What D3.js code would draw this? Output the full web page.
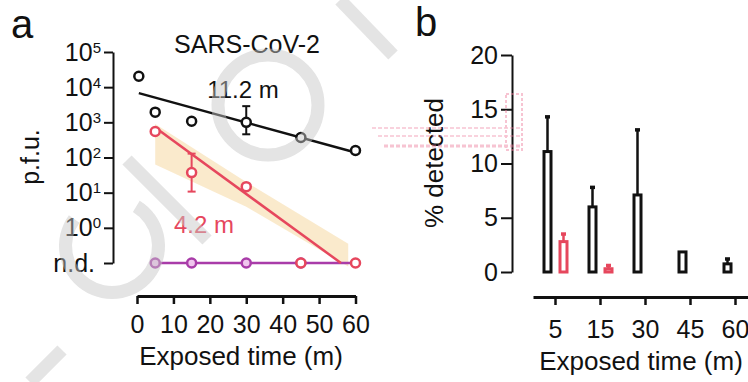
<!DOCTYPE html>
<html>
<head>
<meta charset="utf-8">
<script src="https://cdn.jsdelivr.net/npm/d3@7"></script>
<style>
  body { margin: 0; background: #fff; }
  svg { display: block; font-family: "Liberation Sans", Arial, sans-serif; }
</style>
</head>
<body>
<svg id="chart" width="748" height="382"></svg>
<script>
// ---- panel a : p.f.u. over exposed time (log10 values, -1 = n.d.)
const blackTimes = [0.5, 5, 15, 30, 45, 60];
const blackLog = [4.31, 3.29, 3.03, 3.0, 2.57, 2.2];
const blackErrLo = [null, null, null, 2.66, null, 2.12];
const blackErrHi = [null, null, null, 3.46, null, 2.28];

const redTimes = [5, 15, 30, 45, 60];
const redLog = [2.74, 1.57, 1.17, -1, -1];
const redErrLo = [null, 1.03, null, null, null];
const redErrHi = [null, 2.11, null, null, null];

const purpleTimes = [5, 15, 30, 45, 60];
const purpleLog = [-1, -1, -1, -1, -1];

const blackFitT = [0.5, 60];
const blackFitLog = [3.83, 2.14];
const redFitT = [5, 56];
const redFitLog = [2.85, -1];

const bandT = [5, 30, 58];
const bandHi = [2.95, 1.3, -0.45];
const bandLo = [1.8, 0.6, -1.1];

const logTicks = [-1, 0, 1, 2, 3, 4, 5];
const timeTicks = [0, 10, 20, 30, 40, 50, 60];

// ---- panel b : % detected
const groups = ["5", "15", "30", "45", "60"];
const blackPct = [11.1, 6.0, 7.1, 1.85, 0.75];
const blackPctErr = [14.3, 7.8, 13.1, null, 1.2];
const redPct = [2.8, 0.3, 0, null, null];
const redPctErr = [3.5, 0.6, null, null, null];
const pctTicks = [0, 5, 10, 15, 20];

const RED = "#e6475d", PURPLE = "#a93ca9", INK = "#111";

const svg = d3.select("#chart");

function styleAxis(g, size) {
  g.attr("font-size", size).attr("font-family", "Liberation Sans, Arial, sans-serif");
  g.selectAll("text").attr("fill", INK);
  g.selectAll("line,path").attr("stroke", INK);
}

// ================= panel a =================
const xA = d3.scaleLinear().domain([0, 60]).range([137, 355.5]);
const yA = d3.scaleLinear().domain([-1, 5]).range([263, 52]);

// confidence band of red fit
const band = d3.area()
  .x((d, i) => xA(bandT[i]))
  .y0((d, i) => yA(bandLo[i]))
  .y1((d, i) => yA(bandHi[i]));
svg.append("path").datum(bandT).attr("d", band)
  .attr("fill", "#f3d08e").attr("opacity", 0.45);

const line = d3.line().x(d => xA(d[0])).y(d => yA(d[1]));

// purple (n.d.) line
svg.append("path").datum(d3.zip(purpleTimes, purpleLog)).attr("d", line)
  .attr("fill", "none").attr("stroke", PURPLE).attr("stroke-width", 2.5);

// fits
svg.append("path").datum(d3.zip(blackFitT, blackFitLog)).attr("d", line)
  .attr("fill", "none").attr("stroke", INK).attr("stroke-width", 2.5);
svg.append("path").datum(d3.zip(redFitT, redFitLog)).attr("d", line)
  .attr("fill", "none").attr("stroke", RED).attr("stroke-width", 2.5);

function errBars(times, lo, hi, color) {
  const g = svg.append("g").attr("stroke", color).attr("stroke-width", 2);
  times.forEach((t, i) => {
    if (lo[i] == null) return;
    const x = xA(t);
    g.append("line").attr("x1", x).attr("x2", x).attr("y1", yA(lo[i])).attr("y2", yA(hi[i]));
    g.append("line").attr("x1", x - 4).attr("x2", x + 4).attr("y1", yA(lo[i])).attr("y2", yA(lo[i]));
    g.append("line").attr("x1", x - 4).attr("x2", x + 4).attr("y1", yA(hi[i])).attr("y2", yA(hi[i]));
  });
}
errBars(blackTimes, blackErrLo, blackErrHi, INK);
errBars(redTimes, redErrLo, redErrHi, RED);

function points(times, vals, color, fill) {
  svg.append("g").selectAll("circle").data(d3.zip(times, vals)).join("circle")
    .attr("cx", d => xA(d[0])).attr("cy", d => yA(d[1])).attr("r", 4.5)
    .attr("fill", fill).attr("stroke", color).attr("stroke-width", 2.5);
}
points(purpleTimes.slice(0, 4), purpleLog.slice(0, 4), PURPLE, "#f0c6ee");
points(blackTimes, blackLog, INK, "#fff");
points(redTimes, redLog, RED, "#fff");

// axes a
const yAxA = svg.append("g").attr("transform", "translate(113,0)")
  .call(d3.axisLeft(yA).tickValues(logTicks).tickSize(9).tickSizeOuter(0).tickPadding(3));
styleAxis(yAxA, 25);
yAxA.select(".domain").attr("stroke-width", 2);
yAxA.selectAll(".tick line").attr("stroke-width", 2);
yAxA.selectAll(".tick text").text(null).each(function (d) {
  const t = d3.select(this);
  if (d === -1) { t.attr("dx", -6).text("n.d."); return; }
  t.append("tspan").text("10");
  t.append("tspan").attr("font-size", 15).attr("dy", -8).text(d);
});

const xAxA = svg.append("g").attr("transform", "translate(0,296)")
  .call(d3.axisBottom(xA).tickValues(timeTicks).tickSize(8).tickSizeOuter(0).tickPadding(11));
styleAxis(xAxA, 25);
xAxA.select(".domain").attr("stroke-width", 3);
xAxA.selectAll(".tick line").attr("stroke-width", 2.5);

// labels a
svg.append("text").attr("x", 11).attr("y", 38).attr("font-size", 40).attr("fill", INK).text("a");
svg.append("text").attr("x", 247).attr("y", 53).attr("font-size", 25).attr("text-anchor", "middle")
  .attr("fill", INK).text("SARS-CoV-2");
svg.append("text").attr("x", 243).attr("y", 98).attr("font-size", 24).attr("text-anchor", "middle")
  .attr("fill", INK).text("11.2 m");
svg.append("text").attr("x", 204).attr("y", 233).attr("font-size", 24).attr("text-anchor", "middle")
  .attr("fill", RED).text("4.2 m");
svg.append("text").attr("transform", "translate(39,157) rotate(-90)").attr("font-size", 25)
  .attr("text-anchor", "middle").attr("fill", INK).text("p.f.u.");
svg.append("text").attr("x", 241).attr("y", 365).attr("font-size", 26).attr("text-anchor", "middle")
  .attr("fill", INK).text("Exposed time (m)");

// ================= panel b =================
const xB = d3.scaleBand().domain(groups).range([533, 758]);
const yB = d3.scaleLinear().domain([0, 20]).range([272, 55]);
const cx = g => xB(g) + xB.bandwidth() / 2;

function bars(vals, errs, color, off) {
  const g = svg.append("g");
  groups.forEach((k, i) => {
    if (vals[i] == null) return;
    const x = cx(k) + off;
    if (errs[i] != null) {
      g.append("line").attr("x1", x).attr("x2", x).attr("y1", yB(vals[i])).attr("y2", yB(errs[i]))
        .attr("stroke", color).attr("stroke-width", 2.5);
      g.append("line").attr("x1", x - 2.5).attr("x2", x + 2.5).attr("y1", yB(errs[i])).attr("y2", yB(errs[i]))
        .attr("stroke", color).attr("stroke-width", 3.5);
    }
    g.append("rect").attr("x", x - 3.5).attr("width", 7)
      .attr("y", yB(vals[i])).attr("height", yB(0) - yB(vals[i]))
      .attr("fill", "#fff").attr("stroke", color).attr("stroke-width", 3);
  });
}
bars(blackPct, blackPctErr, INK, -8);
bars(redPct, redPctErr, RED, 8);

const yAxB = svg.append("g").attr("transform", "translate(512,0)")
  .call(d3.axisLeft(yB).tickValues(pctTicks).tickSize(11).tickSizeOuter(0).tickPadding(3));
styleAxis(yAxB, 25);
yAxB.select(".domain").attr("stroke-width", 2);
yAxB.selectAll(".tick line").attr("stroke-width", 2);

const xAxB = svg.append("g").attr("transform", "translate(0,297)")
  .call(d3.axisBottom(xB).tickSize(8).tickSizeOuter(0).tickPadding(15));
styleAxis(xAxB, 25);
xAxB.select(".domain").attr("stroke-width", 3);
xAxB.selectAll(".tick line").attr("stroke-width", 2.5);

svg.append("text").attr("x", 415).attr("y", 36).attr("font-size", 40).attr("fill", INK).text("b");
svg.append("text").attr("transform", "translate(443,163) rotate(-90)").attr("font-size", 26)
  .attr("text-anchor", "middle").attr("fill", INK).text("% detected");
svg.append("text").attr("x", 641).attr("y", 370).attr("font-size", 26).attr("text-anchor", "middle")
  .attr("fill", INK).text("Exposed time (m)");

// ---- faint scan artefacts: pink stamp and grey watermark
const stamp = svg.append("g").attr("stroke", "#ee7e9c").attr("fill", "none").attr("opacity", 0.45);
[128, 136, 146].forEach((y, i) => {
  stamp.append("line").attr("x1", 372 + i * 6).attr("x2", 522).attr("y1", y).attr("y2", y)
    .attr("stroke-width", i === 2 ? 3 : 1.5).attr("stroke-dasharray", "4,2");
});
stamp.append("rect").attr("x", 506).attr("y", 94).attr("width", 16).attr("height", 56)
  .attr("stroke-width", 2).attr("stroke-dasharray", "3,2");

const wm = svg.append("g").attr("fill", "none").attr("stroke", "#c6c6c6")
  .attr("stroke-width", 13).attr("opacity", 0.48).attr("stroke-linecap", "butt");
wm.append("circle").attr("cx", 268).attr("cy", 105).attr("r", 50);
wm.append("path").attr("d", d3.arc()({ innerRadius: 40, outerRadius: 53, startAngle: 0.55, endAngle: 2 * Math.PI - 0.95 }))
  .attr("transform", "translate(112,246)").attr("fill", "#c6c6c6").attr("stroke", "none");
wm.append("line").attr("x1", 127).attr("y1", 160).attr("x2", 207).attr("y2", 240);
wm.append("line").attr("x1", 340).attr("y1", 0).attr("x2", 393).attr("y2", 55);
wm.append("line").attr("x1", 30).attr("y1", 382).attr("x2", 62).attr("y2", 350);
</script>
</body>
</html>
